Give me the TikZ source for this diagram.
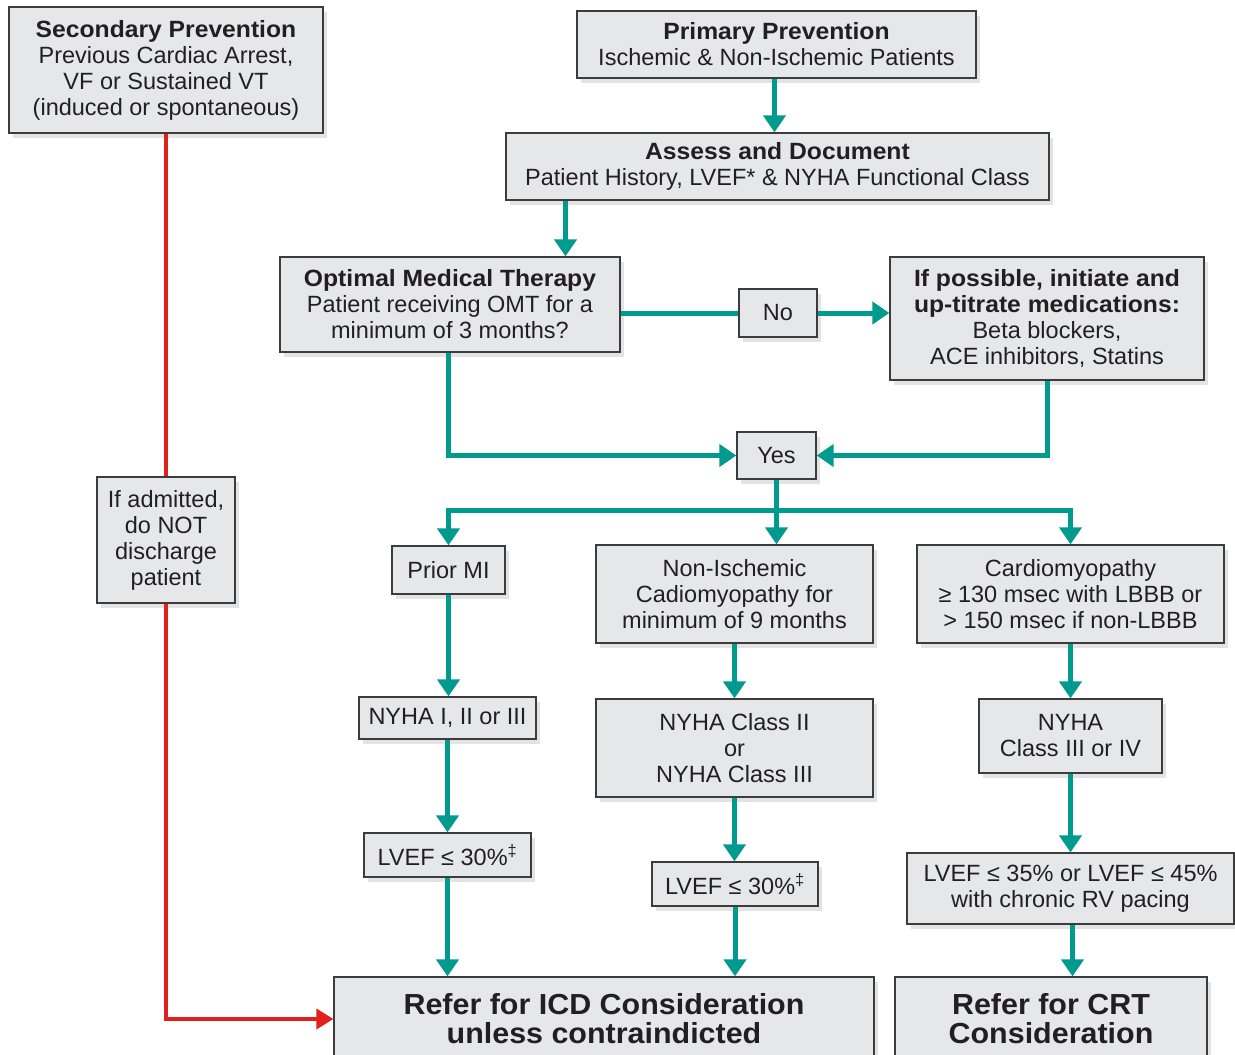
\documentclass[tikz,border=0pt]{standalone}
\usepackage{fontspec}
\setmainfont{Liberation Sans}[BoldFeatures={FakeStretch=1.05}]
\usetikzlibrary{arrows.meta,shadows}
\definecolor{teal1}{HTML}{009A8E}
\definecolor{red1}{HTML}{E2211C}
\definecolor{boxfill}{HTML}{E6E7E8}
\definecolor{boxline}{HTML}{3C3C3C}
\definecolor{txt}{HTML}{231F20}
\newcommand{\mybox}[6]{\node[box,minimum width={#3-(#1)},minimum height={#4-(#2)}] (#5) at ({(#1+#3)/2},{(#2+#4)/2}) {#6};}
\begin{document}
\begin{tikzpicture}[x=1pt,y=-1pt,
 box/.style={draw=boxline, line width=1.3pt, fill=boxfill, align=center, text=txt, inner sep=0pt,
   font=\fontsize{23.5}{26}\selectfont,
   drop shadow={shadow xshift=4pt,shadow yshift=-5pt,opacity=0.22}},
 tl/.style={draw=teal1, line width=5pt},
 ta/.style={tl, -{Triangle[width=22pt,length=17pt]}},
 ra/.style={draw=red1, line width=4pt},
 big/.style={font=\fontsize{29}{29}\selectfont\bfseries}]
\useasboundingbox (0,0) rectangle (1235,1055);
\clip (0,0) rectangle (1235,1055);
\fill[white] (0,0) rectangle (1235,1055);

\mybox{9}{7}{323}{133}{sec}{\textbf{Secondary Prevention}\\Previous Cardiac Arrest,\\VF or Sustained VT\\(induced or spontaneous)}
\mybox{577}{11}{976}{78}{prim}{\textbf{Primary Prevention}\\Ischemic \& Non-Ischemic Patients}
\mybox{506}{133}{1049}{200}{assess}{\textbf{Assess and Document}\\Patient History, LVEF* \& NYHA Functional Class}
\mybox{280}{257}{620}{352}{omt}{\textbf{Optimal Medical Therapy}\\Patient receiving OMT for a\\minimum of 3 months?}
\mybox{739}{289}{817}{337}{no}{No}
\mybox{890}{257}{1204}{380}{ifp}{\textbf{If possible, initiate and}\\\textbf{up-titrate medications:}\\Beta blockers,\\ACE inhibitors, Statins}
\mybox{737}{432}{816}{479}{yes}{Yes}
\mybox{97}{477}{235}{603}{adm}{If admitted,\\do NOT\\discharge\\patient}
\mybox{392}{546}{505}{594}{pmi}{Prior MI}
\mybox{596}{545}{873}{643}{ni}{Non-Ischemic\\Cadiomyopathy for\\minimum of 9 months}
\mybox{917}{545}{1224}{643}{cardio}{Cardiomyopathy\\≥ 130 msec with LBBB or\\> 150 msec if non-LBBB}
\mybox{359}{697}{536}{739}{nya}{NYHA I, II or III}
\mybox{596}{699}{873}{797}{nyb}{NYHA Class II\\or\\NYHA Class III}
\mybox{979}{699}{1162}{773}{nyc}{NYHA\\Class III or IV}
\mybox{364}{833}{531}{877}{lva}{LVEF ≤ 30\%\textsuperscript{‡}}
\mybox{652}{862}{818}{906}{lvb}{LVEF ≤ 30\%\textsuperscript{‡}}
\mybox{907}{853}{1234}{924}{lvc}{LVEF ≤ 35\% or LVEF ≤ 45\%\\with chronic RV pacing}
\node[box,big,minimum width=540,minimum height=84] (icd) at (604,1019) {Refer for ICD Consideration\\unless contraindicted};
\node[box,big,minimum width=312,minimum height=84] (crt) at (1051,1019) {Refer for CRT\\Consideration};

% teal connectors
\draw[ta] ([xshift=-2pt]prim.south) -- ([xshift=-2pt]prim.south |- assess.north);
\draw[ta] ([xshift=-212pt]assess.south) -- ([xshift=-212pt]assess.south |- omt.north);
\draw[tl] (omt.east |- no.west) -- (no.west);
\draw[ta] (no.east) -- (no.east -| ifp.west);
\draw[ta] ([xshift=-2pt]omt.south) |- (yes.west);
\draw[ta] (ifp.south) |- (yes.east);
\draw[tl] (yes.south) -- ++(0,31) coordinate (br);
\draw[ta] (br) -| (pmi.north);
\draw[ta] (br) -| (cardio.north);
\draw[ta] (br) -- (br |- ni.north);
\draw[ta] (pmi.south) -- (pmi.south |- nya.north);
\draw[ta] (nya.south) -- (nya.south |- lva.north);
\draw[ta] (lva.south) -- (lva.south |- icd.north);
\draw[ta] (ni.south) -- (ni.south |- nyb.north);
\draw[ta] (nyb.south) -- (nyb.south |- lvb.north);
\draw[ta] (lvb.south) -- (lvb.south |- icd.north);
\draw[ta] (cardio.south) -- (cardio.south |- nyc.north);
\draw[ta] (nyc.south) -- (nyc.south |- lvc.north);
\draw[ta] ([xshift=2pt]lvc.south) -- ([xshift=2pt]lvc.south |- crt.north);
% red connectors
\draw[ra] (sec.south) -- (adm.north);
\draw[ra, -{Triangle[width=20pt,length=17pt]}] (adm.south) |- (icd.west);
\end{tikzpicture}
\end{document}
